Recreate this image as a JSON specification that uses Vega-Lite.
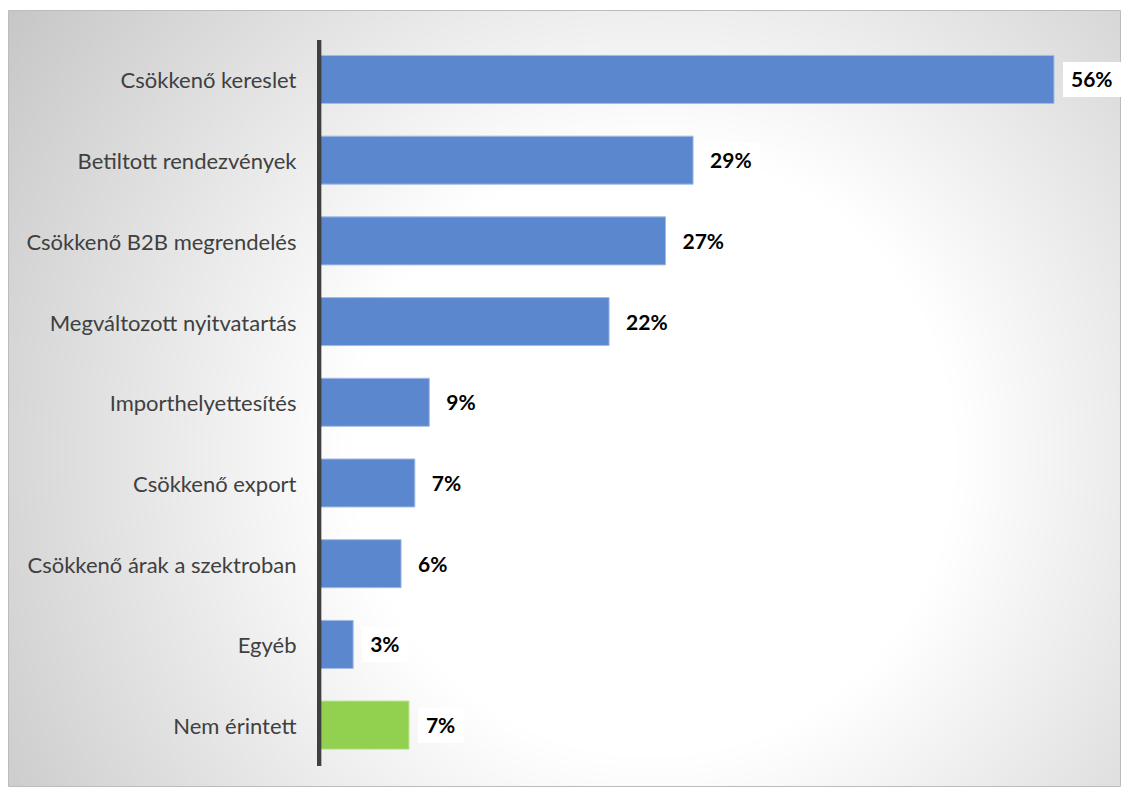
{
  "$schema": "https://vega.github.io/schema/vega-lite/v6.json",
  "width": 1112,
  "height": 776,
  "padding": {"left": 8, "top": 10, "right": 5, "bottom": 1},
  "autosize": {"type": "none"},
  "background": "#ffffff",
  "config": {
    "view": {
      "stroke": "#bcbcbc",
      "strokeWidth": 1,
      "fill": {
        "gradient": "radial",
        "x1": 0.58, "y1": 0.55, "r1": 0,
        "x2": 0.58, "y2": 0.55, "r2": 0.75,
        "stops": [
          {"offset": 0, "color": "#ffffff"},
          {"offset": 0.36, "color": "#ffffff"},
          {"offset": 1, "color": "#c0c0c0"}
        ]
      }
    }
  },
  "data": {
    "values": [
      {"cat": "Csökkenő kereslet", "value": 56, "label": "56%"},
      {"cat": "Betiltott rendezvények", "value": 28.5, "label": "29%"},
      {"cat": "Csökkenő B2B megrendelés", "value": 26.4, "label": "27%"},
      {"cat": "Megváltozott nyitvatartás", "value": 22.1, "label": "22%"},
      {"cat": "Importhelyettesítés", "value": 8.4, "label": "9%"},
      {"cat": "Csökkenő export", "value": 7.3, "label": "7%"},
      {"cat": "Csökkenő árak a szektroban", "value": 6.25, "label": "6%"},
      {"cat": "Egyéb", "value": 2.6, "label": "3%"},
      {"cat": "Nem érintett", "value": 6.85, "label": "7%"}
    ]
  },
  "encoding": {
    "y": {
      "field": "cat",
      "type": "nominal",
      "sort": null,
      "scale": {"paddingInner": 0.405, "paddingOuter": 0.51, "align": 0.552},
      "axis": {
        "title": null,
        "orient": "left",
        "offset": -311,
        "domain": false,
        "ticks": false,
        "grid": false,
        "labelPadding": 23,
        "labelOffset": 2,
        "labelFont": "Lato",
        "labelFontSize": 22,
        "labelColor": "#404040",
        "labelLimit": 400
      }
    }
  },
  "layer": [
    {
      "mark": {"type": "bar", "strokeWidth": 1},
      "encoding": {
        "x": {
          "field": "value",
          "type": "quantitative",
          "scale": {"domain": [-23.7, 61.03], "nice": false, "zero": false},
          "axis": null
        },
        "x2": {"datum": 0},
        "color": {
          "condition": {"test": "datum.cat === 'Nem érintett'", "value": "#92D050"},
          "value": "#5B87CE"
        },
        "stroke": {
          "condition": {"test": "datum.cat === 'Nem érintett'", "value": "#b8e08e"},
          "value": "#a3bbe4"
        }
      }
    },
    {
      "mark": {
        "type": "bar",
        "color": "#ffffff",
        "height": {"band": 0.73},
        "xOffset": 9,
        "x2Offset": {"expr": "31 + 12*length(datum.label)"}
      },
      "encoding": {
        "x": {"field": "value", "type": "quantitative"},
        "x2": {"field": "value"}
      }
    },
    {
      "mark": {
        "type": "text",
        "align": "left",
        "baseline": "middle",
        "font": "Lato",
        "fontSize": 21,
        "fontWeight": "bold",
        "color": "#000000",
        "xOffset": 17,
        "yOffset": 2
      },
      "encoding": {
        "x": {"field": "value", "type": "quantitative"},
        "text": {"field": "label"}
      }
    },
    {
      "mark": {
        "type": "rule",
        "color": "#404040",
        "strokeWidth": 4,
        "yOffset": -15.5,
        "y2Offset": 17
      },
      "encoding": {
        "x": {"datum": 0, "type": "quantitative"},
        "y": {"datum": "Csökkenő kereslet", "bandPosition": 0},
        "y2": {"datum": "Nem érintett", "bandPosition": 1}
      }
    }
  ]
}
